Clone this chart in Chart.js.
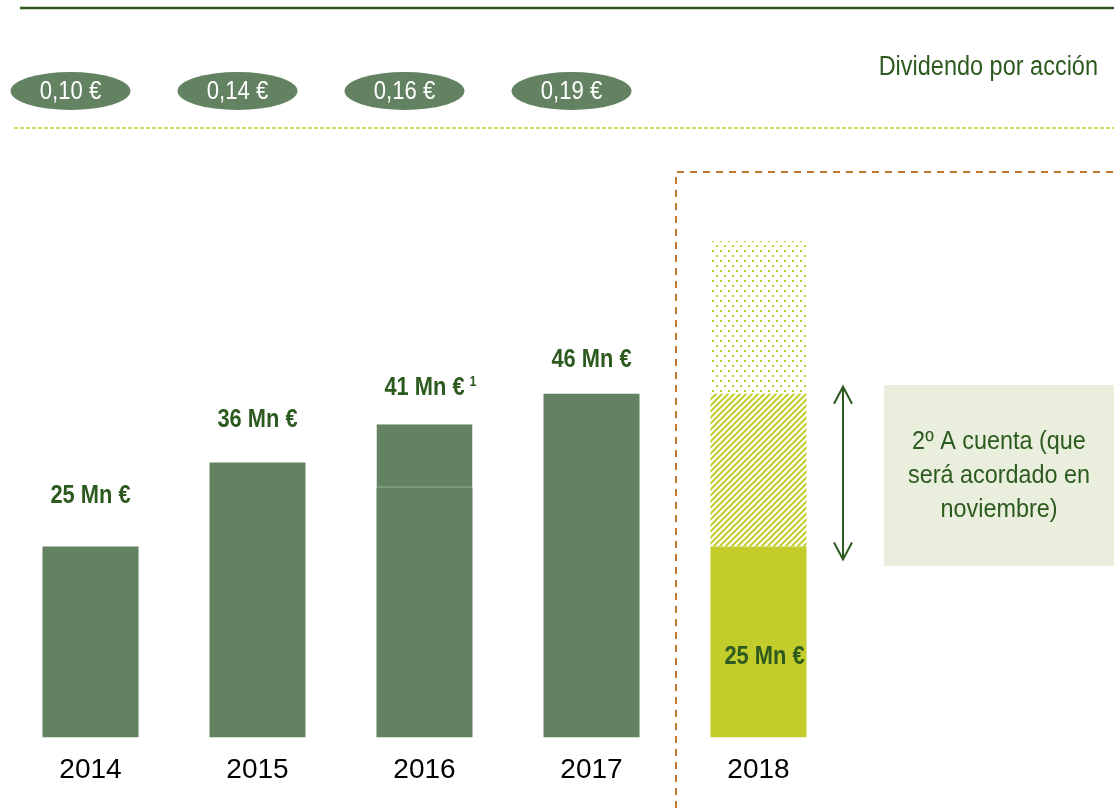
<!DOCTYPE html>
<html>
<head>
<meta charset="utf-8">
<script src="https://cdn.jsdelivr.net/npm/chart.js@4.4.1/dist/chart.umd.min.js"></script>
<style>
  body { margin: 0; background: #fff; }
  #wrap { width: 1114px; height: 808px; }
</style>
</head>
<body>
<div id="wrap"><canvas id="chart" width="1114" height="808"></canvas></div>
<script>
// Data (Mn €)
var years = ['2014', '2015', '2016', '2017', '2018'];
var paidValues = [25, 36, 32.7, 45, 25];      // solid part of each bar
var extraValues = [0, 0, 8.3, 0, 20];         // 2016 top part / 2018 second interim (hatched)
var pendingValues = [0, 0, 0, 0, 20];         // 2018 pending part (dotted)
var totalLabels = ['25 Mn €', '36 Mn €', '41 Mn €', '46 Mn €'];
var dpsLabels = ['0,10 €', '0,14 €', '0,16 €', '0,19 €'];
var interimLabel = '25 Mn €';
var noteLines = ['2º A cuenta (que', 'será acordado en', 'noviembre)'];

var darkGreen = '#628262';
var lime = '#c2cd2c';
var textGreen = '#2d5a1f';
var sans = '"Liberation Sans", Arial, sans-serif';

// draws text squeezed horizontally, to look like a narrow face
function narrowText(ctx, text, x, y, size, bold, align, squeeze) {
  ctx.save();
  ctx.font = (bold ? 'bold ' : '') + size + 'px ' + sans;
  ctx.textBaseline = 'middle';
  ctx.textAlign = align;
  ctx.translate(x, y);
  ctx.scale(squeeze, 1);
  ctx.fillText(text, 0, 0);
  var w = ctx.measureText(text).width * squeeze;
  ctx.restore();
  return w;
}

// pattern for the hatched part
function hatchPattern() {
  var c = document.createElement('canvas');
  c.width = 6; c.height = 6;
  var g = c.getContext('2d');
  g.strokeStyle = lime;
  g.lineWidth = 2;
  g.beginPath();
  g.moveTo(-1, 7); g.lineTo(7, -1);
  g.moveTo(-1, 1); g.lineTo(1, -1);
  g.moveTo(5, 7); g.lineTo(7, 5);
  g.stroke();
  return g.createPattern(c, 'repeat');
}

// pattern for the dotted part
function dotPattern() {
  var c = document.createElement('canvas');
  c.width = 8; c.height = 10;
  var g = c.getContext('2d');
  g.fillStyle = lime;
  g.fillRect(0, 0, 2, 2);
  g.fillRect(4, 5, 2, 2);
  return g.createPattern(c, 'repeat');
}

var extraColors = ['rgba(0,0,0,0)', 'rgba(0,0,0,0)', darkGreen, 'rgba(0,0,0,0)', hatchPattern()];

// Extra drawing: header, ellipses, labels, divider, note box
var overlayPlugin = {
  id: 'overlay',
  beforeDatasetsDraw: function(chart) {
    var ctx = chart.ctx;
    var x = chart.scales.x;
    ctx.save();
    // top dark line
    ctx.strokeStyle = '#2d5a1f';
    ctx.lineWidth = 2.5;
    ctx.beginPath();
    ctx.moveTo(20, 8); ctx.lineTo(1114, 8);
    ctx.stroke();
    // yellow dashed line
    ctx.strokeStyle = '#cdd32e';
    ctx.lineWidth = 1.5;
    ctx.setLineDash([4, 2]);
    ctx.beginPath();
    ctx.moveTo(14, 128); ctx.lineTo(1114, 128);
    ctx.stroke();
    // orange dashed divider
    var dx = (x.getPixelForValue(3) + x.getPixelForValue(4)) / 2 + 1;
    ctx.strokeStyle = '#c07a30';
    ctx.lineWidth = 2;
    ctx.setLineDash([7, 6]);
    ctx.beginPath();
    ctx.moveTo(dx, 808); ctx.lineTo(dx, 172); ctx.lineTo(1114, 172);
    ctx.stroke();
    ctx.setLineDash([]);

    // dividend per share ellipses
    dpsLabels.forEach(function(t, i) {
      var cx = x.getPixelForValue(i) - 20;
      ctx.fillStyle = darkGreen;
      ctx.beginPath();
      ctx.ellipse(cx, 91, 60, 19, 0, 0, Math.PI * 2);
      ctx.fill();
      ctx.fillStyle = '#ffffff';
      narrowText(ctx, t, cx, 92, 26, false, 'center', 0.85);
    });
    ctx.fillStyle = textGreen;
    narrowText(ctx, 'Dividendo por acción', 1098, 68, 27, false, 'right', 0.87);

    // note box
    ctx.fillStyle = '#e9eedd';
    ctx.fillRect(884, 385, 230, 181);
    ctx.fillStyle = textGreen;
    noteLines.forEach(function(t, i) {
      narrowText(ctx, t, 999, 442 + i * 34, 26, false, 'center', 0.9);
    });
    ctx.restore();
  },
  afterDatasetsDraw: function(chart) {
    var ctx = chart.ctx;
    var x = chart.scales.x;
    var y = chart.scales.y;
    var offsets = [51, 43, 36, 34];
    ctx.save();
    ctx.fillStyle = textGreen;
    totalLabels.forEach(function(t, i) {
      var top = y.getPixelForValue(paidValues[i] + extraValues[i]);
      var cx = x.getPixelForValue(i);
      var w = narrowText(ctx, t, cx, top - offsets[i], 26, true, 'center', 0.84);
      if (i === 2) {
        // footnote mark
        narrowText(ctx, '1', cx + w / 2 + 5, top - offsets[i] - 6, 15, true, 'left', 0.84);
      }
    });
    narrowText(ctx, interimLabel, x.getPixelForValue(4) + 6, y.getPixelForValue(paidValues[4] / 2) + 15, 26, true, 'center', 0.84);

    // double arrow next to the 2018 interim
    var ax = 843;
    var a1 = y.getPixelForValue(paidValues[4] + extraValues[4]) - 7;
    var a2 = y.getPixelForValue(paidValues[4]) + 13;
    ctx.strokeStyle = '#2d5a1f';
    ctx.lineWidth = 2;
    ctx.beginPath();
    ctx.moveTo(ax, a1); ctx.lineTo(ax, a2);
    ctx.moveTo(ax - 9, a1 + 17); ctx.lineTo(ax, a1); ctx.lineTo(ax + 9, a1 + 17);
    ctx.moveTo(ax - 9, a2 - 17); ctx.lineTo(ax, a2); ctx.lineTo(ax + 9, a2 - 17);
    ctx.stroke();
    ctx.restore();
  }
};

var chart = new Chart(document.getElementById('chart'), {
  type: 'bar',
  data: {
    labels: years,
    datasets: [
      {
        data: paidValues,
        backgroundColor: [darkGreen, darkGreen, darkGreen, darkGreen, lime],
        borderWidth: 0
      },
      {
        data: extraValues,
        backgroundColor: extraColors,
        borderColor: '#2d5a1f',
        borderWidth: function(c) {
          return c.dataIndex === 2 ? { bottom: 1, top: 0, left: 0, right: 0 } : 0;
        },
        borderSkipped: false
      },
      {
        data: pendingValues,
        backgroundColor: dotPattern(),
        borderWidth: 0
      }
    ]
  },
  options: {
    responsive: false,
    animation: false,
    barPercentage: 1,
    categoryPercentage: 0.575,
    layout: { padding: { top: 241, left: 7, right: 272, bottom: 5 } },
    plugins: {
      legend: { display: false },
      tooltip: { enabled: false }
    },
    scales: {
      x: {
        stacked: true,
        border: { display: false },
        grid: { display: false, drawTicks: false },
        ticks: {
          padding: 16,
          color: '#000',
          font: { family: sans, size: 28 }
        }
      },
      y: {
        stacked: true,
        display: false,
        min: 0,
        max: 65
      }
    }
  },
  plugins: [overlayPlugin]
});
</script>
</body>
</html>
